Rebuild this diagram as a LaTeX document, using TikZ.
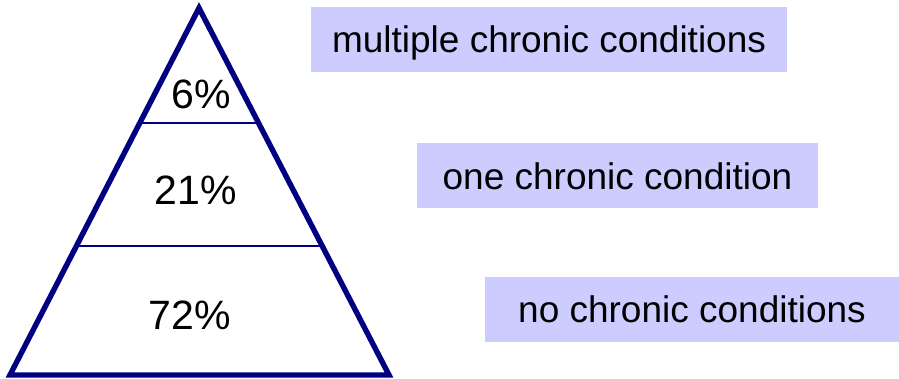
\documentclass[tikz,border=0pt]{standalone}
\usepackage{fontspec}
\setmainfont{Liberation Sans}
\usetikzlibrary{calc}

\definecolor{navyline}{HTML}{000080}
\definecolor{lavender}{HTML}{CCCCFF}

\tikzset{
  label box/.style={fill=lavender,inner sep=0pt,minimum height=32.5pt,
    font=\fontsize{18.5}{22}\selectfont,text height=13.2pt,text depth=0pt},
  share/.style={inner sep=0pt,font=\fontsize{20.5}{24}\selectfont,
    text height=14.7pt,text depth=0pt},
  outline/.style={draw=navyline,line width=2.7pt,line join=miter},
  divider/.style={draw=navyline,line width=1pt}
}

\begin{document}
\begin{tikzpicture}[x=0.5pt,y=-0.5pt]

\useasboundingbox (0,0) rectangle (899,379);

% Pyramide
\coordinate (apex) at (199,8);
\coordinate (baseL) at (10,375);
\coordinate (baseR) at (389,375);

\coordinate (topL) at ($(apex)!0.313!(baseL)$);
\coordinate (topR) at ($(apex)!0.313!(baseR)$);
\coordinate (midL) at ($(apex)!0.649!(baseL)$);
\coordinate (midR) at ($(apex)!0.649!(baseR)$);

\draw[divider] (topL) -- (topR);
\draw[divider] (midL) -- (midR);
\draw[outline] (apex) -- (baseL) -- (baseR) -- cycle;

% Parts
\node[share]
(top)
at (201,94)
{6\%};

\node[share]
(middle)
at (196,190)
{21\%};

\node[share]
(bottom)
at (190,315)
{72\%};

% Etiquettes
\node[label box,minimum width=238pt]
(multiple)
at (549,39.5)
{multiple chronic conditions};

\node[label box,minimum width=200.5pt]
(one)
at (617.5,176)
{one chronic condition};

\node[label box,minimum width=207pt]
(none)
at (692,309.5)
{no chronic conditions};

\end{tikzpicture}
\end{document}
